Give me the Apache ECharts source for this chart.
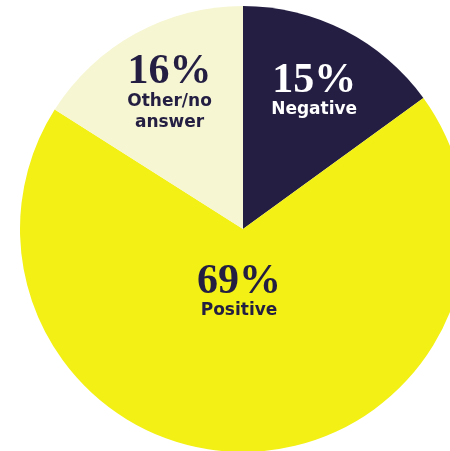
<!DOCTYPE html>
<html><head><meta charset="utf-8">
<script src="https://cdn.jsdelivr.net/npm/echarts@6/dist/echarts.min.js"></script>
<style>html,body{margin:0;padding:0;background:#fff}#c{width:450px;height:451px}</style>
</head><body><div id="c"></div>
<script>
const categories = ['Negative', 'Positive', 'Other/no\nanswer'];
const values = [15, 69, 16];
const colors = ['#231e42', '#f2f015', '#f6f6d3'];
const labelColors = ['#ffffff', '#231e42', '#231e42'];

const center = [243, 229];
const baseData = categories.map((c, i) => ({ name: c, value: values[i], itemStyle: { color: colors[i] } }));
const rich = (col) => ({
  num: { fontFamily: 'Liberation Serif', fontWeight: 'bold', fontSize: 42, color: col, lineHeight: 36 },
  lab: { fontFamily: 'DejaVu Sans', fontWeight: 'bold', fontSize: 17, color: col, lineHeight: 21 }
});
function labelData(showIdx) {
  return categories.map((c, i) => ({
    name: c, value: values[i],
    itemStyle: { color: 'rgba(0,0,0,0)' },
    label: {
      show: showIdx.includes(i), position: 'inside',
      formatter: p => '{num|' + p.value + '%}\n{lab|' + p.name.split('\n').join('}\n{lab|') + '}',
      rich: rich(labelColors[i])
    }
  }));
}
const chart = echarts.init(document.getElementById('c'));
chart.setOption({
  animation: false,
  series: [
    { type: 'pie', center, radius: [0, 223], startAngle: 90, silent: true, label: { show: false }, labelLine: { show: false }, data: baseData },
    { type: 'pie', center, radius: [0, 303], startAngle: 90, silent: true, labelLine: { show: false }, labelLayout: { dx: 1 }, data: labelData([0, 2]) },
    { type: 'pie', center, radius: [0, 122], startAngle: 90, silent: true, labelLine: { show: false }, labelLayout: { dx: -6 }, data: labelData([1]) }
  ]
});
</script></body></html>
